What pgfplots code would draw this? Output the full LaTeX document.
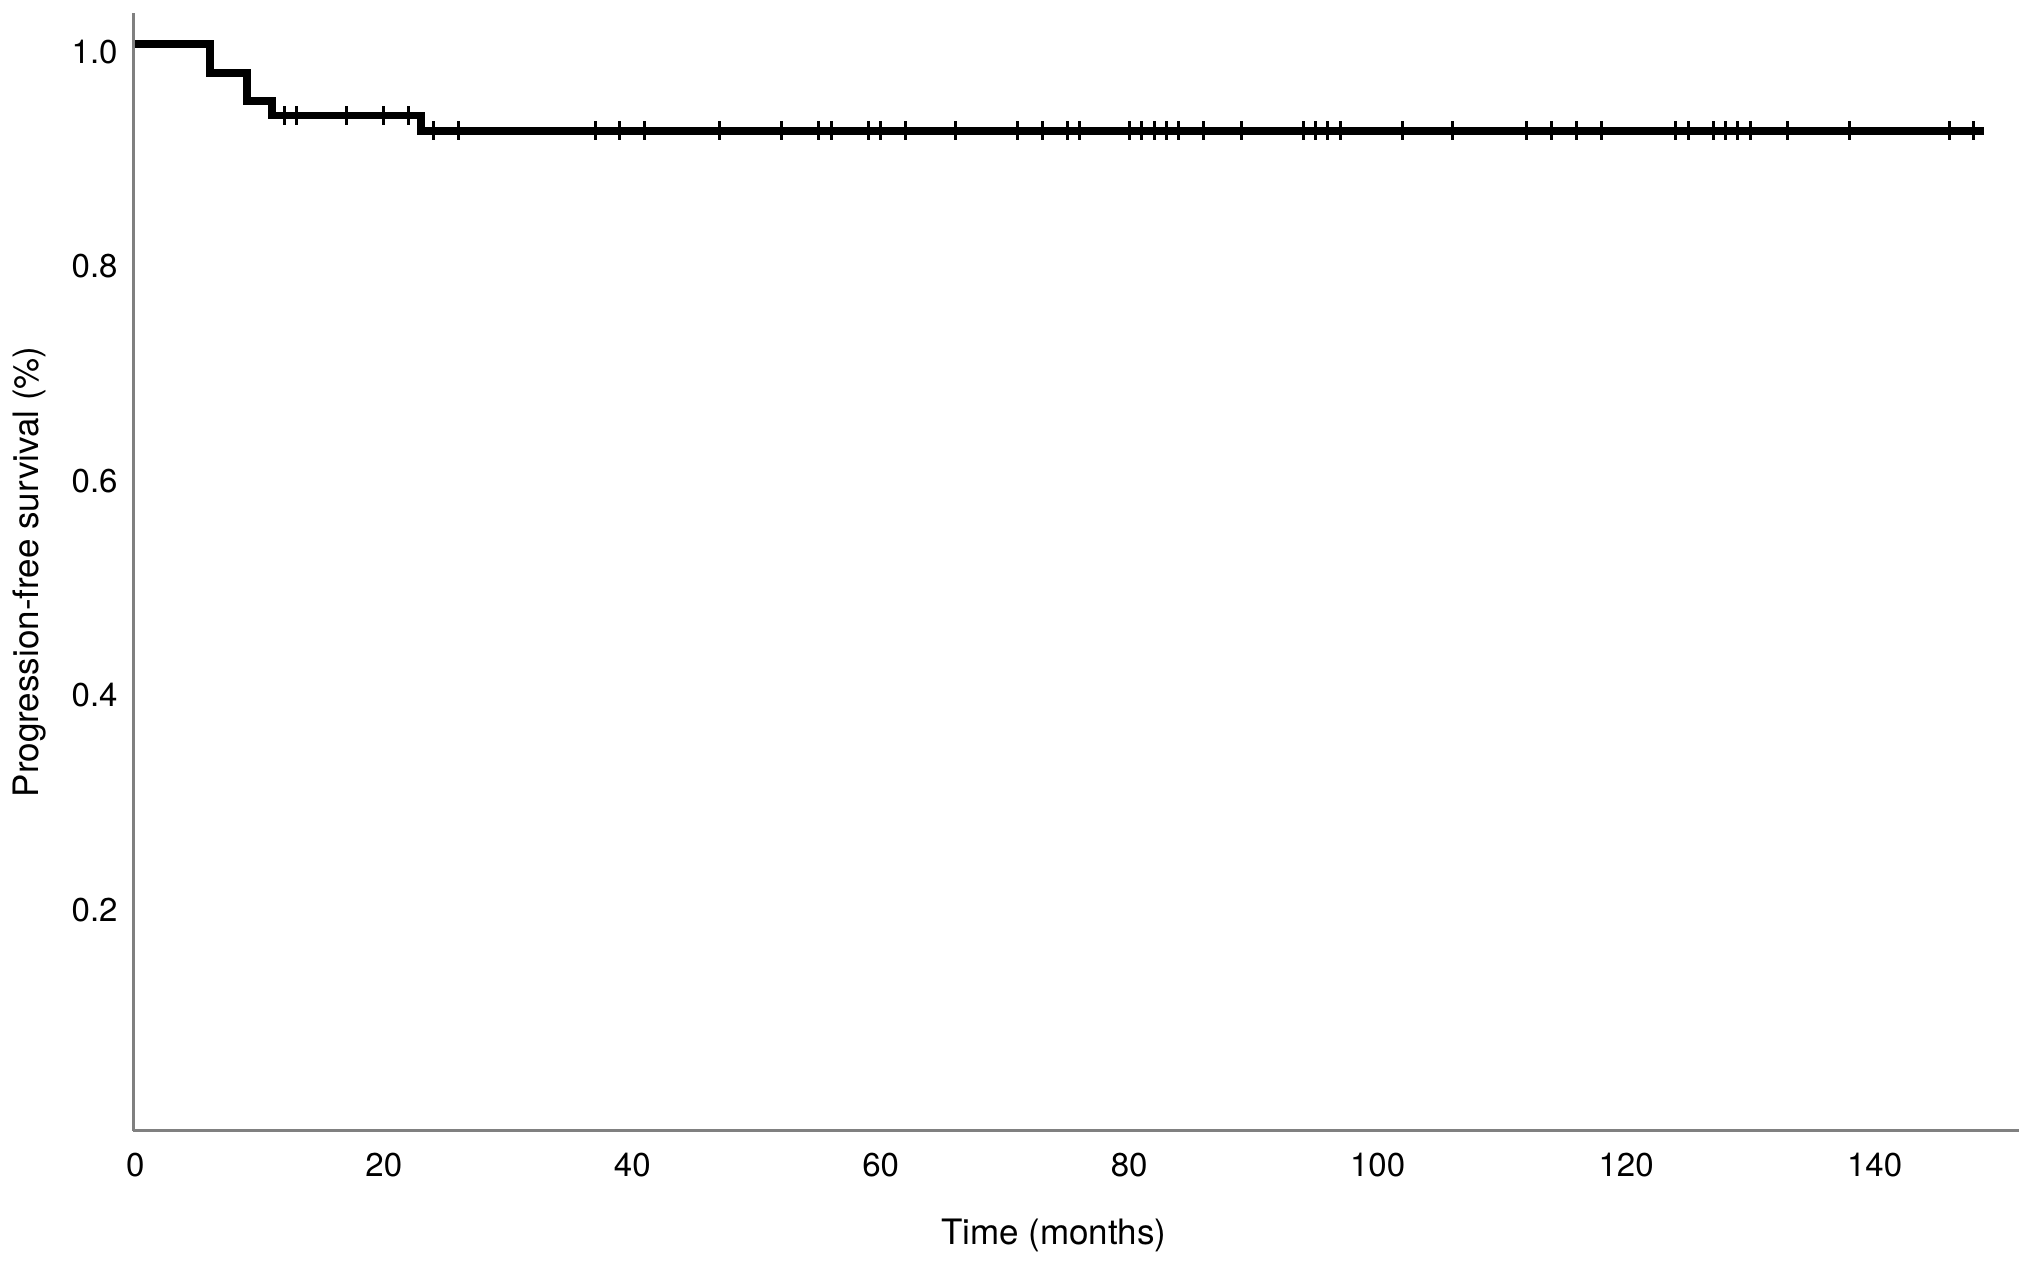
\documentclass[border=0pt]{standalone}
\usepackage{fontspec}
\setmainfont{TeX Gyre Heros}
\usepackage{pgfplots}
\pgfplotsset{compat=1.18}
\definecolor{AxisGray}{RGB}{128,128,128}

% Kaplan-Meier steps: value held from x until the next x
\pgfplotstableread{
t   s
0   1.0
6   0.9733
9   0.9467
11  0.9333
23  0.9190
148.8 0.9190
}\kmsteps

% censored cases
\pgfplotstableread{
t   s
12  0.9333
13  0.9333
17  0.9333
20  0.9333
22  0.9333
24  0.9190
26  0.9190
37  0.9190
39  0.9190
41  0.9190
47  0.9190
52  0.9190
55  0.9190
56  0.9190
59  0.9190
60  0.9190
62  0.9190
66  0.9190
71  0.9190
73  0.9190
75  0.9190
76  0.9190
80  0.9190
81  0.9190
82  0.9190
83  0.9190
84  0.9190
86  0.9190
89  0.9190
94  0.9190
95  0.9190
96  0.9190
97  0.9190
102 0.9190
106 0.9190
112 0.9190
114 0.9190
116 0.9190
118 0.9190
124 0.9190
125 0.9190
127 0.9190
128 0.9190
129 0.9190
130 0.9190
133 0.9190
138 0.9190
146 0.9190
148 0.9190
}\censored

\begin{document}
\begin{tikzpicture}
\path[use as bounding box] (-66.75pt,-66.65pt) rectangle (949.25pt,565.35pt);
\begin{axis}[
    at={(0,0)}, anchor=south west,
    scale only axis, width=942.9pt, height=558.85pt,
    xmin=-0.15, xmax=151.65, ymin=-0.0134, ymax=1.029,
    axis lines=left,
    axis line style={-, AxisGray, line width=1.25pt},
    major tick length=0pt,
    xtick={0,20,...,140},
    ytick={0.2,0.4,0.6,0.8,1.0},
    /pgf/number format/assume math mode=true,
    yticklabel style={/pgf/number format/fixed, /pgf/number format/fixed zerofill, /pgf/number format/precision=1},
    tick label style={font=\fontsize{16.5}{19}\selectfont, black},
    xticklabel style={anchor=center, yshift=-17pt},
    yticklabel style={anchor=east, inner sep=0pt, xshift=-7.75pt, yshift=-4pt},
    label style={font=\fontsize{17.5}{21}\selectfont, black},
    xlabel={Time (months)},
    ylabel={Progression-free survival (\%)},
    xlabel style={at={(axis description cs:0.488,0)}, anchor=center, yshift=-52.15pt},
    ylabel style={at={(axis description cs:-0.0549,0.5)}, anchor=center},
    clip=false,
]
\addplot[const plot, black, line width=3.85pt, line join=miter] table[x=t, y=s] {\kmsteps};
\addplot[only marks, mark=|, mark size=4.75pt, mark options={line width=1.5pt, black}] table[x=t, y=s] {\censored};
\end{axis}
\end{tikzpicture}
\end{document}
